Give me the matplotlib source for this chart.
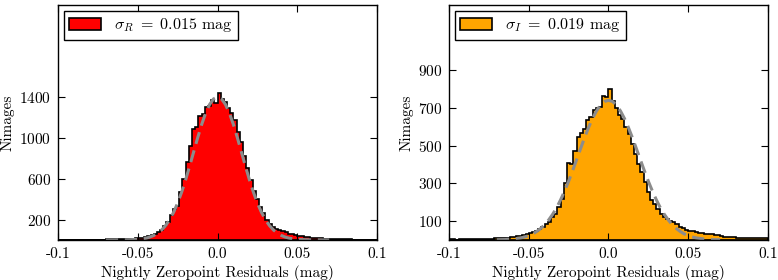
import numpy as np
import matplotlib
matplotlib.use('Agg')
import matplotlib.pyplot as plt

plt.rcParams['font.family'] = 'cmr10'
plt.rcParams['mathtext.fontset'] = 'cm'
plt.rcParams['axes.unicode_minus'] = False
plt.rcParams['axes.formatter.use_mathtext'] = True

# bin edges: -0.1 .. 0.1 in steps of 0.002
edges = np.linspace(-0.1, 0.1, 101)

# R band counts per bin
counts_r = [1, 1, 1, 1, 1, 1, 2, 2, 2, 2,
            3, 3, 3, 4, 4, 5, 5, 6, 6, 7,
            8, 9, 10, 12, 15, 18, 24, 30, 38, 45,
            60, 80, 100, 135, 180, 240, 300, 330, 470, 600,
            760, 920, 1090, 1110, 1215, 1230, 1300, 1310, 1370, 1340,
            1440, 1380, 1350, 1290, 1240, 1170, 1060, 960, 820, 700,
            590, 480, 400, 320, 260, 200, 160, 125, 110, 95,
            85, 75, 62, 55, 48, 40, 35, 30, 27, 24,
            20, 18, 16, 14, 12, 10, 9, 8, 7, 6,
            5, 5, 4, 4, 3, 3, 2, 2, 2, 1]

# I band counts per bin
counts_i = [3, 3, 2, 3, 3, 4, 4, 4, 5, 5,
            6, 6, 7, 7, 8, 9, 10, 11, 13, 15,
            18, 20, 23, 26, 30, 36, 42, 50, 60, 70,
            82, 95, 120, 140, 175, 215, 300, 410, 400, 470,
            545, 565, 590, 635, 650, 690, 700, 705, 765, 755,
            800, 735, 700, 660, 640, 600, 560, 510, 455, 400,
            360, 305, 255, 210, 190, 165, 140, 120, 110, 100,
            95, 85, 70, 62, 55, 50, 45, 42, 38, 35,
            33, 31, 29, 27, 26, 22, 18, 17, 15, 14,
            13, 12, 12, 11, 11, 10, 10, 10, 9, 9]

# dashed gaussian curves, read at these offsets
curve_x = [-0.07, -0.065, -0.06, -0.0575, -0.055, -0.0525, -0.05, -0.0475, -0.045, -0.0425,
           -0.04, -0.0375, -0.035, -0.0325, -0.03, -0.0275, -0.025, -0.0225, -0.02, -0.0175,
           -0.015, -0.0125, -0.01, -0.0075, -0.005, -0.0025, 0.0, 0.0025, 0.005, 0.0075,
           0.01, 0.0125, 0.015, 0.0175, 0.02, 0.0225, 0.025, 0.0275, 0.03, 0.0325,
           0.035, 0.0375, 0.04, 0.0425, 0.045, 0.0475, 0.05, 0.0525, 0.055, 0.0575,
           0.06, 0.065, 0.07]
curve_r = [0, 0, 1, 1, 2, 4, 6, 11, 17, 28,
           44, 67, 99, 142, 200, 272, 362, 468, 589, 722,
           860, 998, 1128, 1240, 1326, 1381, 1400, 1381, 1326, 1240,
           1128, 998, 860, 722, 589, 468, 362, 272, 200, 142,
           99, 67, 44, 28, 17, 11, 6, 4, 2, 1,
           1, 0, 0]
curve_i = [1, 2, 5, 8, 11, 16, 23, 32, 45, 61,
           81, 106, 136, 171, 213, 260, 311, 367, 425, 484,
           542, 596, 644, 684, 715, 734, 740, 734, 715, 684,
           644, 596, 542, 484, 425, 367, 311, 260, 213, 171,
           136, 106, 81, 61, 45, 32, 23, 16, 11, 8,
           5, 2, 1]

centers = (edges[:-1] + edges[1:]) / 2

fig = plt.figure(figsize=(7.78, 2.8), dpi=100)
ax1 = fig.add_axes([0.0746, 0.143, 0.410, 0.839])
ax2 = fig.add_axes([0.5771, 0.143, 0.410, 0.839])

panels = [
    (ax1, counts_r, curve_r, 'red', r'$\sigma_R\ =\ 0.015$ mag', (0, 2300), [200, 600, 1000, 1400]),
    (ax2, counts_i, curve_i, 'orange', r'$\sigma_I\ =\ 0.019$ mag', (0, 1245), [100, 300, 500, 700, 900]),
]

for ax, counts, curve, col, lab, ylim, yt in panels:
    ax.hist(centers, bins=edges, weights=counts, histtype='stepfilled',
            facecolor=col, edgecolor='black', linewidth=1.2, label=lab)
    ax.plot(curve_x, curve, '--', color='#8c8c8c', linewidth=2.2, dashes=(4, 2.2))
    ax.set_xlim(-0.1, 0.1)
    ax.set_ylim(*ylim)
    ax.set_xticks([-0.1, -0.05, 0.0, 0.05, 0.1])
    ax.set_xticklabels(['-0.1', '-0.05', '0.0', '0.05', '0.1'])
    ax.set_yticks(yt)
    ax.tick_params(direction='in', top=True, right=True, labelsize=11, length=5, pad=5)
    ax.set_xlabel('Nightly Zeropoint Residuals (mag)', fontsize=11, labelpad=3)
    ax.set_ylabel('Nimages', fontsize=11, labelpad=3)
    for s in ax.spines.values():
        s.set_linewidth(1.0)
    leg = ax.legend(loc='upper left', fontsize=11.5, fancybox=False, framealpha=1,
                    borderaxespad=0.35, handlelength=2.0, handleheight=0.8,
                    borderpad=0.35, handletextpad=0.8)
    leg.get_frame().set_edgecolor('black')
    leg.get_frame().set_linewidth(1.0)

fig.savefig('out.png', dpi=100)
